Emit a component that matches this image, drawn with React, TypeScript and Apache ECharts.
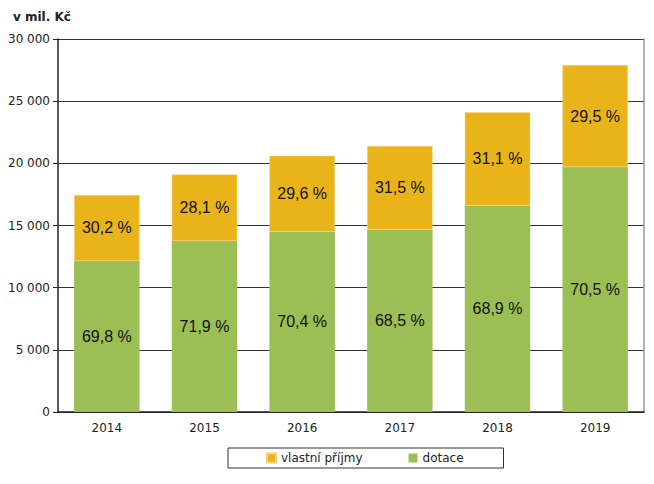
import * as echarts from 'echarts'
import { useEffect, useRef } from 'react'

const years = ['2014', '2015', '2016', '2017', '2018', '2019']
// mil. Kč
const dotace = [12150, 13750, 14500, 14650, 16600, 19700]
const vlastniPrijmy = [5300, 5350, 6100, 6750, 7500, 8200]
const dotacePct = ['69,8 %', '71,9 %', '70,4 %', '68,5 %', '68,9 %', '70,5 %']
const vlastniPct = ['30,2 %', '28,1 %', '29,6 %', '31,5 %', '31,1 %', '29,5 %']

const axisFont = 'DejaVu Sans, Verdana, sans-serif'
const labelFont = 'Liberation Sans, Arial, sans-serif'

export default function App() {
  const ref = useRef<HTMLDivElement>(null)

  useEffect(() => {
    document.body.style.margin = '0'
    if (!ref.current) return
    const chart = echarts.init(ref.current, undefined, { renderer: 'svg' })
    chart.setOption({
      animation: false,
      backgroundColor: '#ffffff',
      title: {
        text: 'v mil. Kč',
        left: 8,
        top: 6,
        textStyle: { fontFamily: axisFont, fontSize: 12, fontWeight: 'bold', color: '#222' },
      },
      grid: { left: 58, right: 10, top: 39, bottom: 72 },
      legend: {
        data: ['vlastní příjmy', 'dotace'],
        left: 228,
        top: 448,
        padding: [4, 40, 4, 38],
        itemGap: 46,
        itemWidth: 9,
        itemHeight: 9,
        icon: 'rect',
        borderColor: '#333',
        borderWidth: 1,
        textStyle: { fontFamily: axisFont, fontSize: 12, color: '#222' },
      },
      xAxis: {
        type: 'category',
        data: years,
        axisLine: { lineStyle: { color: '#222', width: 1.5 } },
        axisTick: { length: 5, lineStyle: { color: '#222' } },
        axisLabel: { fontFamily: axisFont, fontSize: 12, color: '#222', margin: 10 },
      },
      yAxis: [
        {
          type: 'value',
          min: 0,
          max: 30000,
          interval: 5000,
          axisLine: { show: true, lineStyle: { color: '#222', width: 1.5 } },
          axisTick: { show: true, length: 5, lineStyle: { color: '#222' } },
          axisLabel: {
            fontFamily: axisFont,
            fontSize: 12,
            color: '#222',
            margin: 8,
            formatter: (v: number) => String(v).replace(/\B(?=(\d{3})+(?!\d))/g, ' '),
          },
          splitLine: { lineStyle: { color: '#333', width: 1 } },
        },
        {
          type: 'value',
          position: 'right',
          min: 0,
          max: 30000,
          interval: 5000,
          axisLine: { show: true, lineStyle: { color: '#999', width: 1.5 } },
          axisTick: { show: false },
          axisLabel: { show: false },
          splitLine: { show: false },
        },
      ],
      series: [
        {
          name: 'dotace',
          type: 'bar',
          stack: 'total',
          data: dotace,
          barCategoryGap: '33%',
          itemStyle: { color: '#9BBF55' },
          label: {
            show: true,
            position: 'inside',
            fontFamily: labelFont,
            fontSize: 16,
            color: '#111',
            formatter: (p: { dataIndex: number }) => dotacePct[p.dataIndex],
          },
        },
        {
          name: 'vlastní příjmy',
          type: 'bar',
          stack: 'total',
          data: vlastniPrijmy,
          barCategoryGap: '33%',
          itemStyle: { color: '#E8B419', borderColor: '#F2D27A', borderWidth: 0.5 },
          label: {
            show: true,
            position: 'inside',
            fontFamily: labelFont,
            fontSize: 16,
            color: '#111',
            formatter: (p: { dataIndex: number }) => vlastniPct[p.dataIndex],
          },
        },
      ],
    })
    return () => chart.dispose()
  }, [])

  return <div ref={ref} style={{ width: 654, height: 484 }} />
}
